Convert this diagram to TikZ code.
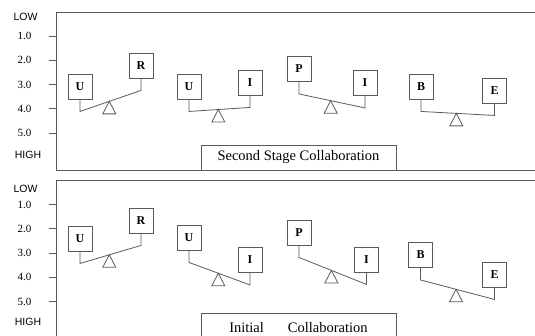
\documentclass[tikz,border=0pt]{standalone}
\usepackage{fontspec}
\setmainfont{Liberation Serif}
\newfontfamily\axisfont{Liberation Sans}
\usepackage{tikz}
\usetikzlibrary{calc}
\definecolor{lgray}{RGB}{90,90,90}

\begin{document}
\begin{tikzpicture}[x=1pt, y=-1pt,
  frame/.style={draw=lgray, line width=0.9pt},
  item/.style={draw=lgray, line width=0.9pt, minimum width=24pt,
               minimum height=25pt, inner sep=0pt,
               font=\fontsize{12}{12}\selectfont\bfseries},
  beam/.style={draw=lgray, line width=0.8pt},
  caption/.style={draw=lgray, line width=0.9pt, minimum width=195pt,
                  inner sep=0pt, font=\fontsize{14.5}{15}\selectfont},
  num/.style={font=\fontsize{11}{11}\selectfont},
  extreme/.style={font=\axisfont\fontsize{10.5}{11}\selectfont}]
  \useasboundingbox (0,0) rectangle (535,335);

  % panels
  \draw[frame] (535,12) -- (56,12) -- (56,170) -- (535,170);
  \draw[frame] (535,180) -- (56,180) -- (56,345);

  % value scales
  \node[extreme] (lowa) at (25.5,17) {LOW};
  \node[extreme] (higha) at (28,155) {HIGH};
  \node[extreme] (lowb) at (25.5,189) {LOW};
  \node[extreme] (highb) at (28,322) {HIGH};
  \foreach \v in {1,...,5}{
    \node[num] (na\v) at (24.5,{36+24.25*(\v-1)}) {\v.0};
    \draw[frame] (49,{36+24.25*(\v-1)}) -- (56,{36+24.25*(\v-1)});
    \node[num] (nb\v) at (24.5,{204.5+24.25*(\v-1)}) {\v.0};
    \draw[frame] (49,{204.5+24.25*(\v-1)}) -- (56,{204.5+24.25*(\v-1)});
  }

  % second stage
  \node[item] (ua1) at (80,86.5) {U};
  \node[item] (ra1) at (141,65.5) {R};
  \node[item] (ua2) at (189,86.5) {U};
  \node[item] (ia2) at (250,82.5) {I};
  \node[item] (pa3) at (299,69) {P};
  \node[item] (ia3) at (365,83) {I};
  \node[item] (ba4) at (421,86.5) {B};
  \node[item] (ea4) at (494.5,90.5) {E};

  % initial
  \node[item] (ub1) at (80,238.5) {U};
  \node[item] (rb1) at (141,220.5) {R};
  \node[item] (ub2) at (189,237.5) {U};
  \node[item] (ib2) at (250,260) {I};
  \node[item] (pb3) at (299,232.5) {P};
  \node[item] (ib3) at (366.5,259.5) {I};
  \node[item] (bb4) at (420.5,255) {B};
  \node[item] (eb4) at (494.5,274.5) {E};

  % beams and pivots
  \foreach \l/\r in {ua1/ra1, ua2/ia2, pa3/ia3, ba4/ea4,
                     ub1/rb1, ub2/ib2, pb3/ib3, bb4/eb4}{
    \coordinate (\l e) at ($(\l.south)+(0,12)$);
    \coordinate (\r e) at ($(\r.south)+(0,12)$);
    \draw[beam] (\l.south) -- (\l e) -- (\r e) -- (\r.south);
    \coordinate (\l p) at ($(\l e)!0.48!(\r e)$);
    \draw[beam] (\l p) -- ++(-6.5,12.5) -- ++(13,0) -- cycle;
  }

  \node[caption, minimum height=25pt] (capa) at (298.5,157.5) {Second Stage Collaboration};
  \node[caption, minimum height=30pt] (capb) at (298.5,328) {Initial\hspace{24pt}Collaboration};
\end{tikzpicture}
\end{document}
